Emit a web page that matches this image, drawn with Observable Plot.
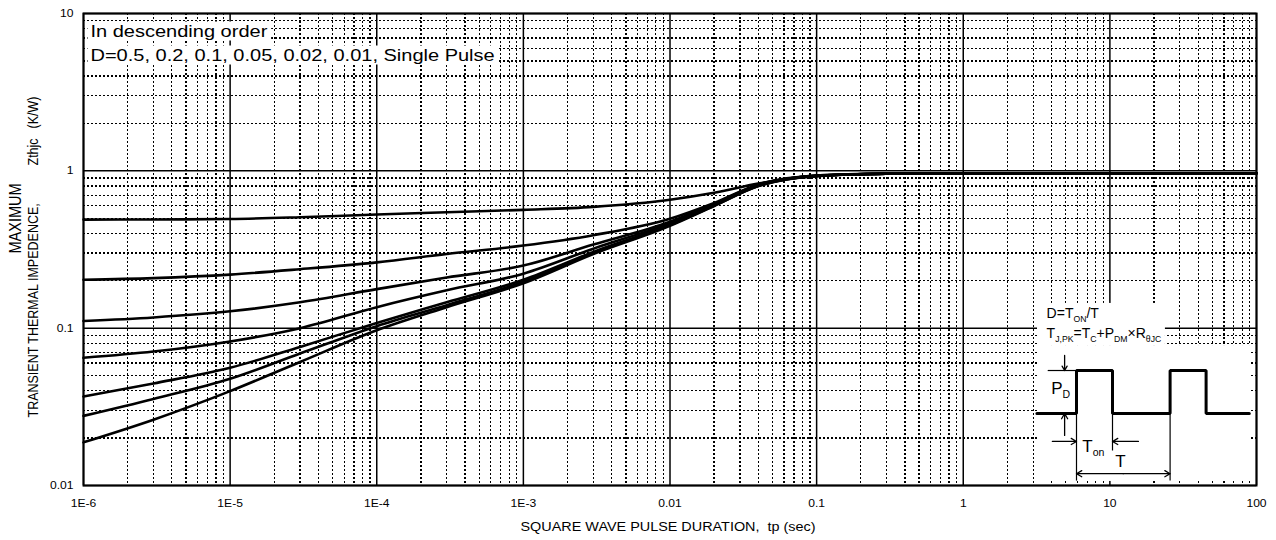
<!DOCTYPE html>
<html><head><meta charset="utf-8">
<script src="https://cdn.jsdelivr.net/npm/d3@7"></script>
<script src="https://cdn.jsdelivr.net/npm/@observablehq/plot@0.6"></script>
<style>
html,body{margin:0;padding:0;background:#fff;}
#wrap{position:relative;width:1276px;height:540px;overflow:hidden;background:#fff;}
#wrap svg{position:absolute;overflow:visible;}
</style></head><body><div id="wrap"></div>
<script>
// ---------- data ----------
const tp = [1e-6, 3e-6, 1e-5, 3e-5, 1e-4, 3e-4, 1e-3, 3e-3, 1e-2, 2e-2, 4e-2, 1e-1, 3e-1, 1, 10, 100];
const dutyLabels = ["D=0.5", "D=0.2", "D=0.1", "D=0.05", "D=0.02", "D=0.01", "Single Pulse"];
const zD05    = [0.490, 0.491, 0.494, 0.507, 0.528, 0.545, 0.565, 0.590, 0.655, 0.725, 0.830, 0.935, 0.960, 0.965, 0.965, 0.965];
const zD02    = [0.203, 0.208, 0.219, 0.237, 0.262, 0.296, 0.335, 0.390, 0.496, 0.625, 0.820, 0.932, 0.959, 0.964, 0.965, 0.965];
const zD01    = [0.111, 0.117, 0.128, 0.146, 0.177, 0.210, 0.250, 0.340, 0.475, 0.615, 0.815, 0.930, 0.958, 0.964, 0.965, 0.965];
const zD005   = [0.0648, 0.0710, 0.0823, 0.100, 0.136, 0.174, 0.222, 0.320, 0.465, 0.610, 0.810, 0.929, 0.958, 0.964, 0.965, 0.965];
const zD002   = [0.0368, 0.0445, 0.0560, 0.076, 0.108, 0.146, 0.203, 0.305, 0.456, 0.605, 0.805, 0.928, 0.958, 0.964, 0.965, 0.965];
const zD001   = [0.0277, 0.0355, 0.0477, 0.069, 0.103, 0.140, 0.197, 0.300, 0.452, 0.600, 0.800, 0.927, 0.958, 0.964, 0.965, 0.965];
const zSingle = [0.0188, 0.0262, 0.0398, 0.061, 0.097, 0.136, 0.193, 0.296, 0.448, 0.598, 0.800, 0.926, 0.958, 0.964, 0.965, 0.965];
const zSeries = [zD05, zD02, zD01, zD005, zD002, zD001, zSingle];

const xTicks = [1e-6, 1e-5, 1e-4, 1e-3, 1e-2, 1e-1, 1, 10, 100];
const xTickLabels = ["1E-6", "1E-5", "1E-4", "1E-3", "0.01", "0.1", "1", "10", "100"];
const yTicks = [0.01, 0.1, 1, 10];
const yTickLabels = ["0.01", "0.1", "1", "10"];

const xTitle = "SQUARE WAVE PULSE DURATION,  tp (sec)";
const yTitle1 = "MAXIMUM";
const yTitle2 = ["TRANSIENT THERMAL IMPEDENCE,", "Zthjc", "(K/W)"];
const noteLines = ["In descending order", "D=0.5, 0.2, 0.1, 0.05, 0.02, 0.01, Single Pulse"];

// inset schematic (units: Ton = 1, level 0 = low, 1 = high)
const waveU     = [-1.1, 0, 0, 1, 1, 2.6, 2.6, 3.6, 3.6, 4.8];
const waveLevel = [0, 0, 1, 1, 0, 0, 1, 1, 0, 0];
const insetTexts = [
  {u: -0.83, l: 2.33, s: "D=T_{ON}/T", size: 14, anchor: "start"},
  {u: -0.83, l: 1.85, s: "T_{J,PK}=T_{C}+P_{DM}×R_{θJC}", size: 14, anchor: "start"},
  {u: -0.44, l: 0.58, s: "P_{D}", size: 17, anchor: "middle"},
  {u: 0.47, l: -0.76, s: "T_{on}", size: 17, anchor: "middle"},
  {u: 1.22, l: -1.12, s: "T", size: 17, anchor: "middle"}
];

// ---------- build ----------
const rows = [];
dutyLabels.forEach((lab, k) => zSeries[k].forEach((z, i) => rows.push({D: lab, tp: tp[i], z})));
const xLab = new Map(xTicks.map((d, i) => [d, xTickLabels[i]]));
const yLab = new Map(yTicks.map((d, i) => [d, yTickLabels[i]]));
const isPow = v => Math.abs(Math.log10(v) - Math.round(Math.log10(v))) < 1e-9;
const xMinor = d3.scaleLog().domain([1e-6, 100]).ticks().filter(v => !isPow(v));
const yMinor = d3.scaleLog().domain([0.01, 10]).ticks().filter(v => !isPow(v));

const FONT = "'Liberation Sans', Arial, Helvetica, sans-serif";
const dotted = {stroke: "#000", strokeOpacity: 1, strokeWidth: 1.3, strokeDasharray: "2,2", shapeRendering: "crispEdges"};
const solid = {stroke: "#000", strokeOpacity: 1, strokeWidth: 1.5};

const main = Plot.plot({
  width: 1276, height: 540,
  marginLeft: 83, marginRight: 20, marginTop: 13, marginBottom: 55,
  style: {fontFamily: FONT, background: "transparent", color: "#000"},
  x: {type: "log", domain: [1e-6, 100]},
  y: {type: "log", domain: [0.01, 10]},
  marks: [
    Plot.gridX(xMinor, dotted),
    Plot.gridY(yMinor, dotted),
    Plot.gridX(xTicks, solid),
    Plot.gridY(yTicks, solid),
    Plot.line(rows, {x: "tp", y: "z", z: "D", stroke: "#000", strokeWidth: 2.6, curve: "monotone-x"}),
    Plot.frame({stroke: "#000", strokeWidth: 2}),
    Plot.axisX(xTicks, {tickSize: 0, tickPadding: 14, tickFormat: d => xLab.get(d), fontSize: 11, label: null}),
    Plot.axisY(yTicks, {tickSize: 0, tickPadding: 10, tickFormat: d => yLab.get(d), fontSize: 11, label: null}),
    Plot.text([xTitle], {frameAnchor: "bottom", dx: -2, dy: 45, fontSize: 12, className: "stretch", text: d => d}),
    Plot.text([yTitle1], {frameAnchor: "left", dx: -68, dy: 4, rotate: -90, fontSize: 14.5, className: "rot", text: d => d}),
    Plot.text([yTitle2[0]], {frameAnchor: "left", dx: -50, dy: 168, rotate: -90, textAnchor: "start", fontSize: 12.5, className: "rot", text: d => d}),
    Plot.text([yTitle2[1]], {frameAnchor: "left", dx: -50, dy: -84, rotate: -90, textAnchor: "start", fontSize: 12.5, className: "rot", text: d => d}),
    Plot.text([yTitle2[2]], {frameAnchor: "left", dx: -50, dy: -121, rotate: -90, textAnchor: "start", fontSize: 12.5, className: "rot", text: d => d}),
    Plot.text([noteLines[0]], {frameAnchor: "top-left", dx: 7, dy: 23, lineAnchor: "bottom", textAnchor: "start", fontSize: 16, className: "boxed", text: d => d}),
    Plot.text([noteLines[1]], {frameAnchor: "top-left", dx: 7, dy: 47, lineAnchor: "bottom", textAnchor: "start", fontSize: 16, className: "boxed", text: d => d})
  ]
});

const wrap = document.getElementById("wrap");
wrap.appendChild(main);
main.style.left = "0px"; main.style.top = "0px";

// inset
const IW = 224, IH = 185;
const insetBoxes = [
  {u1: -1.083, u2: 2.47, l1: 1.58, l2: 2.56},
  {u1: -1.083, u2: 4.86, l1: -1.58, l2: 1.58}
];
const insetLinks = [
  {u1: -0.8, l1: 1, u2: 0, l2: 1},
  {u1: 0, l1: 0, u2: 0, l2: -1.56},
  {u1: 1, l1: 0, u2: 1, l2: -0.86},
  {u1: 2.6, l1: 1, u2: 2.6, l2: -1.56}
];
const insetArrows = [
  {u1: -0.33, l1: 1.35, u2: -0.33, l2: 1.0},
  {u1: -0.33, l1: -0.51, u2: -0.33, l2: 0},
  {u1: -0.67, l1: -0.65, u2: 0, l2: -0.65},
  {u1: 1.72, l1: -0.65, u2: 1.0, l2: -0.65},
  {u1: 1.3, l1: -1.4, u2: 0, l2: -1.4},
  {u1: 1.3, l1: -1.4, u2: 2.6, l2: -1.4}
];
const inset = Plot.plot({
  width: IW, height: IH, margin: 0,
  style: {fontFamily: FONT, background: "transparent", color: "#000", overflow: "visible"},
  x: {domain: [-1.2222, 5.0], axis: null},
  y: {domain: [-1.674, 2.628], axis: null},
  marks: [
    Plot.rect(insetBoxes, {x1: "u1", x2: "u2", y1: "l1", y2: "l2", fill: "#fff"}),
    Plot.link(insetLinks, {x1: "u1", y1: "l1", x2: "u2", y2: "l2", stroke: "#000", strokeWidth: 1.2}),
    Plot.line(waveU.map((u, i) => ({u, l: waveLevel[i]})), {x: "u", y: "l", stroke: "#000", strokeWidth: 3, strokeLinejoin: "miter"}),
    Plot.arrow(insetArrows, {x1: "u1", y1: "l1", x2: "u2", y2: "l2", stroke: "#000", strokeWidth: 1.3, headLength: 7, insetEnd: 0}),
    ...insetTexts.map(t => Plot.text([t], {x: "u", y: "l", text: "s", fontSize: t.size, textAnchor: t.anchor, className: "sub"}))
  ]
});
wrap.appendChild(inset);
inset.style.left = "1032px"; inset.style.top = "300px";

// ---------- post-processing ----------
const NS = "http://www.w3.org/2000/svg";
function stretch(t, f) {
  const L = t.getComputedTextLength();
  t.setAttribute("textLength", (L * f).toFixed(2));
  t.setAttribute("lengthAdjust", "spacingAndGlyphs");
}
main.querySelectorAll('g[aria-label="x-axis tick label"] text, g[aria-label="y-axis tick label"] text').forEach(t => stretch(t, 1.1));
main.querySelectorAll("g.stretch text").forEach(t => stretch(t, 1.2));
main.querySelectorAll("g.rot text").forEach(t => {
  const tr = t.getAttribute("transform") || "";
  t.setAttribute("transform", tr + " scale(1,1.2)");
});
main.querySelectorAll("g.boxed text").forEach(t => {
  stretch(t, 1.25);
  const b = t.getBBox();
  const r = document.createElementNS(NS, "rect");
  r.setAttribute("x", b.x - 3); r.setAttribute("y", b.y - 1);
  r.setAttribute("width", b.width + 6); r.setAttribute("height", b.height + 2);
  r.setAttribute("fill", "#fff");
  if (t.getAttribute("transform")) r.setAttribute("transform", t.getAttribute("transform"));
  t.parentNode.insertBefore(r, t);
});
inset.querySelectorAll("g.sub text").forEach(t => {
  const s = t.textContent;
  if (!s.includes("_{")) return;
  t.textContent = "";
  const re = /([^_]+)|_\{([^}]*)\}/g; let m; let down = false;
  while ((m = re.exec(s))) {
    const ts = document.createElementNS(NS, "tspan");
    if (m[1] !== undefined) {
      ts.textContent = m[1];
      if (down) { ts.setAttribute("dy", "-4"); down = false; }
    } else {
      ts.textContent = m[2];
      ts.setAttribute("font-size", "0.62em");
      ts.setAttribute("dy", "4");
      down = true;
    }
    t.appendChild(ts);
  }
});
</script>
</body></html>
